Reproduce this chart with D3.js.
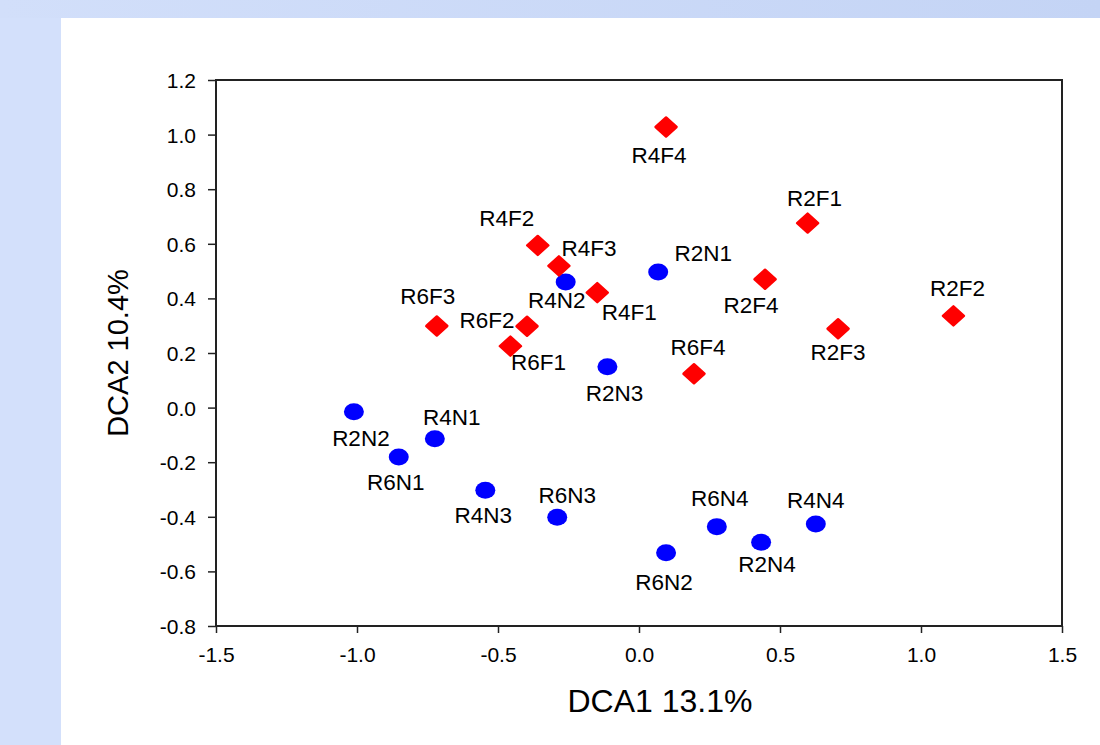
<!DOCTYPE html>
<html>
<head>
<meta charset="utf-8">
<script src="https://cdn.jsdelivr.net/npm/d3@7"></script>
<style>
  body { margin: 0; background: #d3e0fb; }
  svg { display: block; font-family: "Liberation Sans", Arial, sans-serif; }
</style>
</head>
<body>
<svg id="chart" width="1100" height="745"></svg>
<script>
// sample scores
var fNames = ["R4F4", "R2F1", "R4F2", "R4F3", "R4F1", "R2F4", "R6F3", "R6F2", "R6F1", "R6F4", "R2F3", "R2F2"];
var fDca1  = [0.096, 0.598, -0.359, -0.284, -0.148, 0.447, -0.717, -0.397, -0.456, 0.195, 0.706, 1.115];
var fDca2  = [1.028, 0.676, 0.594, 0.519, 0.421, 0.470, 0.299, 0.298, 0.225, 0.124, 0.289, 0.336];

var nNames = ["R2N1", "R4N2", "R2N3", "R2N2", "R4N1", "R6N1", "R4N3", "R6N3", "R6N2", "R6N4", "R2N4", "R4N4"];
var nDca1  = [0.068, -0.260, -0.112, -1.011, -0.724, -0.852, -0.545, -0.290, 0.096, 0.276, 0.433, 0.627];
var nDca2  = [0.497, 0.460, 0.150, -0.015, -0.114, -0.181, -0.303, -0.402, -0.532, -0.436, -0.493, -0.426];

var xTicks = [-1.5, -1.0, -0.5, 0.0, 0.5, 1.0, 1.5];
var yTicks = [-0.8, -0.6, -0.4, -0.2, 0.0, 0.2, 0.4, 0.6, 0.8, 1.0, 1.2];

// where each label sits relative to its marker (text centre, baseline)
var labelPos = {
  R4F4: [-7, 36], R2F1: [7, -17], R4F2: [-31, -19], R4F3: [30, -10], R4F1: [32, 27],
  R2F4: [-14, 34], R6F3: [-9, -22], R6F2: [-40, 2], R6F1: [28, 24], R6F4: [4, -19],
  R2F3: [0, 31], R2F2: [4, -20],
  R2N1: [45, -11], R4N2: [-9, 26], R2N3: [7, 34], R2N2: [7, 34], R4N1: [17, -14],
  R6N1: [-3, 33], R4N3: [-2, 33], R6N3: [10, -14], R6N2: [-2, 37], R6N4: [3, -21],
  R2N4: [6, 30], R4N4: [0, -16]
};

var svg = d3.select("#chart");

// slide background
svg.append("rect").attr("width", 1100).attr("height", 745).attr("fill", "#d3e0fb");
var grad = svg.append("defs").append("linearGradient").attr("id", "topband");
grad.append("stop").attr("offset", "0%").attr("stop-color", "#d2dffa");
grad.append("stop").attr("offset", "100%").attr("stop-color", "#c4d4f5");
svg.append("rect").attr("width", 1100).attr("height", 18).attr("fill", "url(#topband)");
svg.append("rect").attr("x", 61).attr("y", 18).attr("width", 1039).attr("height", 727).attr("fill", "#fff");

var plotL = 216, plotT = 80, plotR = 1062, plotB = 626;
var x = d3.scaleLinear().domain([-1.5, 1.5]).range([plotL, plotR]);
var y = d3.scaleLinear().domain([-0.8, 1.2]).range([plotB, plotT]);

function fmt(v) { return d3.format(".1f")(v).replace("\u2212", "-"); }

var xAxis = svg.append("g")
  .attr("transform", "translate(0," + plotB + ")")
  .call(d3.axisBottom(x).tickValues(xTicks).tickFormat(fmt).tickSize(7).tickSizeOuter(0).tickPadding(14));
var yAxis = svg.append("g")
  .attr("transform", "translate(" + plotL + ",0)")
  .call(d3.axisLeft(y).tickValues(yTicks).tickFormat(fmt).tickSize(8).tickSizeOuter(0).tickPadding(12));

[xAxis, yAxis].forEach(function(g) {
  g.select(".domain").remove();
  g.selectAll("line").attr("stroke", "#222").attr("stroke-width", 1.5);
  g.selectAll("text").attr("fill", "#000").style("font-size", "21px").style("font-family", "'Liberation Sans', Arial, sans-serif");
});
yAxis.selectAll("text").attr("dy", "0.36em");

svg.append("rect")
  .attr("x", plotL).attr("y", plotT)
  .attr("width", plotR - plotL).attr("height", plotB - plotT)
  .attr("fill", "none").attr("stroke", "#222").attr("stroke-width", 2);

// markers
var fData = fNames.map(function(n, i) { return { name: n, a: fDca1[i], b: fDca2[i] }; });
var nData = nNames.map(function(n, i) { return { name: n, a: nDca1[i], b: nDca2[i] }; });

svg.selectAll("ellipse.n").data(nData).enter().append("ellipse")
  .attr("class", "n")
  .attr("cx", function(d) { return x(d.a); })
  .attr("cy", function(d) { return y(d.b); })
  .attr("rx", 10).attr("ry", 8.5)
  .attr("fill", "#0000ff");

svg.selectAll("path.f").data(fData).enter().append("path")
  .attr("class", "f")
  .attr("transform", function(d) { return "translate(" + x(d.a) + "," + y(d.b) + ")"; })
  .attr("d", "M0,-9.5L10.5,0L0,9.5L-10.5,0Z")
  .attr("fill", "#ff0000").attr("stroke", "#ff0000")
  .attr("stroke-width", 2.5).attr("stroke-linejoin", "round");

var allData = fData.concat(nData);
svg.selectAll("text.lbl").data(allData).enter().append("text")
  .attr("class", "lbl")
  .attr("x", function(d) { return x(d.a) + labelPos[d.name][0]; })
  .attr("y", function(d) { return y(d.b) + labelPos[d.name][1]; })
  .attr("text-anchor", "middle")
  .style("font-size", "22.5px")
  .text(function(d) { return d.name; });

// axis titles
svg.append("text")
  .attr("x", 660).attr("y", 712)
  .attr("text-anchor", "middle")
  .style("font-size", "32px")
  .text("DCA1 13.1%");
svg.append("text")
  .attr("transform", "translate(128,353) rotate(-90)")
  .attr("text-anchor", "middle")
  .style("font-size", "29px")
  .text("DCA2 10.4%");
</script>
</body>
</html>
